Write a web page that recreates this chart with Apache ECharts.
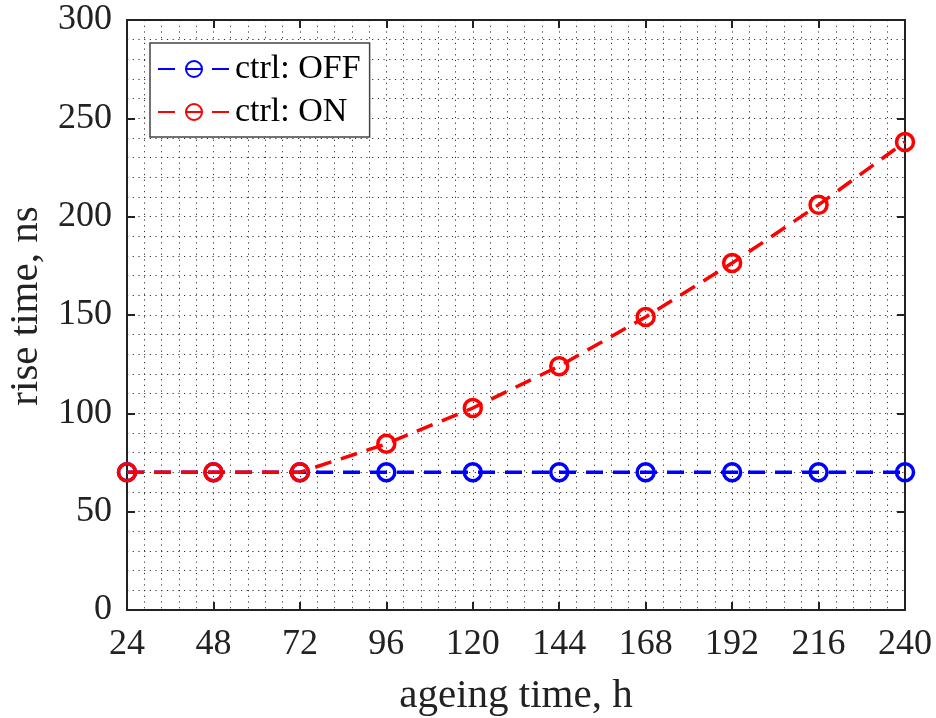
<!DOCTYPE html>
<html><head><meta charset="utf-8">
<script src="https://cdn.jsdelivr.net/npm/echarts@6/dist/echarts.min.js"></script>
<style>html,body{margin:0;padding:0;background:#fff}#c{width:936px;height:718px}</style>
</head><body><div id="c"></div>
<script>
const hours = [24, 48, 72, 96, 120, 144, 168, 192, 216, 240];
const ctrlOff = [70, 70, 70, 70, 70, 70, 70, 70, 70, 70];
const ctrlOn = [70, 70, 70, 84.5, 102.7, 124, 149, 176.4, 206, 238];
const seriesNames = ['ctrl: OFF', 'ctrl: ON'];
const xLabelTitle = 'ageing time, h';
const yLabelTitle = 'rise time, ns';

const FONT = 'Liberation Serif';
const dotted = {show: true, lineStyle: {color: '#333', width: 1, type: [1.2, 4.5]}};
function mkSeries(name, ys, color) {
  return {
    name, type: 'line', data: hours.map((h, i) => [h, ys[i]]),
    symbol: 'circle', symbolSize: 17, color: color,
    itemStyle: {color: 'rgba(255,255,255,0)', borderColor: color, borderWidth: 3.5},
    lineStyle: {color: color, width: 3.5, type: [17, 10]},
    emphasis: {disabled: true}, animation: false, z: 5
  };
}
const chart = echarts.init(document.getElementById('c'));
chart.setOption({
  backgroundColor: '#fff',
  animation: false,
  textStyle: {fontFamily: FONT},
  grid: {left: 127, right: 31, top: 20, bottom: 108, containLabel: false, outerBoundsMode: 'none'},
  legend: {
    left: 150, top: 43, orient: 'vertical',
    padding: [9, 9, 8, 7], itemGap: 9,
    itemWidth: 72, itemHeight: 20,
    backgroundColor: '#fff', borderColor: '#444', borderWidth: 1.5,
    textStyle: {fontFamily: FONT, fontSize: 34, lineHeight: 30, color: '#000'},
    data: seriesNames
  },
  xAxis: [{
    type: 'value', min: 24, max: 240, interval: 24,
    name: xLabelTitle, nameLocation: 'middle', nameGap: 66,
    nameTextStyle: {fontFamily: FONT, fontSize: 41, color: '#222'},
    axisLine: {show: true, onZero: false, lineStyle: {color: '#222', width: 2}},
    axisTick: {show: true, inside: true, length: 8, lineStyle: {color: '#222', width: 2}},
    axisLabel: {fontFamily: FONT, fontSize: 36, color: '#222', margin: 17},
    splitLine: dotted,
    minorTick: {show: false, splitNumber: 5},
    minorSplitLine: dotted
  }, {
    type: 'value', min: 24, max: 240, interval: 24, position: 'top',
    axisLine: {show: true, onZero: false, lineStyle: {color: '#222', width: 2}},
    axisTick: {show: true, inside: true, length: 8, lineStyle: {color: '#222', width: 2}},
    axisLabel: {show: false}, splitLine: {show: false}
  }],
  yAxis: [{
    type: 'value', min: 0, max: 300, interval: 50,
    name: yLabelTitle, nameLocation: 'middle', nameGap: 75,
    nameTextStyle: {fontFamily: FONT, fontSize: 41, color: '#222', padding: [0, 0, 0, 18]},
    axisLine: {show: true, onZero: false, lineStyle: {color: '#222', width: 2}},
    axisTick: {show: true, inside: true, length: 8, lineStyle: {color: '#222', width: 2}},
    axisLabel: {fontFamily: FONT, fontSize: 36, color: '#222', margin: 15},
    splitLine: dotted,
    minorTick: {show: false, splitNumber: 5},
    minorSplitLine: dotted
  }, {
    type: 'value', min: 0, max: 300, interval: 50, position: 'right',
    axisLine: {show: true, onZero: false, lineStyle: {color: '#222', width: 2}},
    axisTick: {show: true, inside: true, length: 8, lineStyle: {color: '#222', width: 2}},
    axisLabel: {show: false}, splitLine: {show: false}
  }],
  series: [
    mkSeries(seriesNames[0], ctrlOff, '#0000ff'),
    mkSeries(seriesNames[1], ctrlOn, '#ff0000')
  ]
});
</script></body></html>
